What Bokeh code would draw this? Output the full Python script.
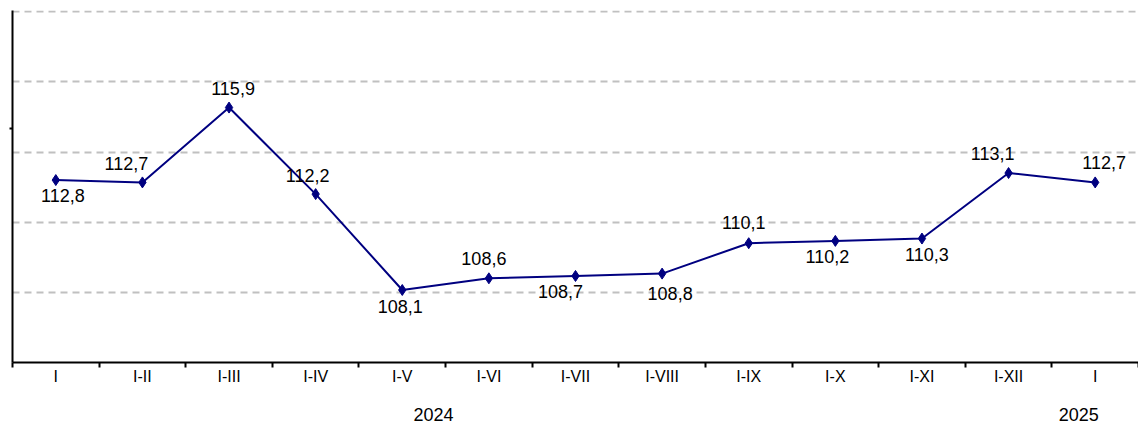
from bokeh.plotting import figure
from bokeh.models import FixedTicker, ColumnDataSource, LinearAxis, Range1d
from bokeh.core.properties import value
from bokeh.embed import file_html
from bokeh.resources import INLINE

# ---- data ----
periods = ["I", "I-II", "I-III", "I-IV", "I-V", "I-VI", "I-VII", "I-VIII",
           "I-IX", "I-X", "I-XI", "I-XII", "I"]
values = [112.8, 112.7, 115.9, 112.2, 108.1, 108.6, 108.7, 108.8,
          110.1, 110.2, 110.3, 113.1, 112.7]
years = ["2024", "2025"]

# ---- layout / style (label placement, screen px) ----
label_dx = [7, -16, 4, -8, -2, -5, -15, 8, -5, -8, 5, -16, 9]
label_dy = [15, -19, -19, -19, 17, -20, 16, 20, -21, 16, 16, -20, -20]
year_x = [4.86, 12.31]

FONT = "Liberation Sans"
NAVY = "#000080"

n = len(periods)
xs = [i + 0.5 for i in range(n)]
labels = [f"{v:.1f}".replace(".", ",") for v in values]

src = ColumnDataSource(dict(x=xs, y=values, lab=labels, dx=label_dx, dy=label_dy))

p = figure(width=1138, height=426, output_backend="svg", toolbar_location=None,
           x_range=Range1d(0, n), y_range=Range1d(105, 120.05),
           min_border_left=12, min_border_right=0, min_border_top=10,
           min_border_bottom=64, outline_line_color=None)
p.xaxis.visible = False
p.yaxis.visible = False
p.xgrid.visible = False

# grid
p.ygrid.ticker = FixedTicker(ticks=[108, 111, 114, 117, 120])
p.ygrid.grid_line_color = "#c0c0c0"
p.ygrid.grid_line_width = 2
p.ygrid.grid_line_dash = "7 5"

# left axis (no labels)
ya = LinearAxis(ticker=FixedTicker(ticks=[115]), axis_line_width=2,
                axis_line_color="black", major_tick_in=0, major_tick_out=3,
                major_tick_line_width=2, minor_tick_out=0, minor_tick_in=0,
                major_label_overrides={115: ""}, major_label_standoff=0)
p.add_layout(ya, "left")

# bottom axis with period labels
xa = LinearAxis(ticker=FixedTicker(ticks=xs, minor_ticks=list(range(0, n + 1))),
                axis_line_width=2, axis_line_color="black",
                major_tick_in=0, major_tick_out=0,
                minor_tick_in=0, minor_tick_out=5, minor_tick_line_width=2,
                minor_tick_line_color="black",
                major_label_overrides={x: s for x, s in zip(xs, periods)},
                major_label_text_font=FONT, major_label_text_font_size="16px",
                major_label_text_color="black", major_label_standoff=0)
p.add_layout(xa, "below")

# year axis
ya2 = LinearAxis(ticker=FixedTicker(ticks=year_x),
                 axis_line_color=None, major_tick_line_color=None,
                 minor_tick_line_color=None,
                 major_label_overrides={x: s for x, s in zip(year_x, years)},
                 major_label_text_font=FONT, major_label_text_font_size="18px",
                 major_label_text_color="black", major_label_standoff=14)
p.add_layout(ya2, "below")

# line + markers
p.line("x", "y", source=src, line_color=NAVY, line_width=2)
p.scatter("x", "y", source=src, marker="diamond", size=11, fill_color=NAVY,
          line_color=NAVY)

# data labels
p.text("x", "y", text="lab", source=src, x_offset="dx", y_offset="dy",
       text_align="center", text_baseline="middle", text_font=value(FONT),
       text_font_size="18px", text_color="black")

open("out.html", "w").write(file_html(p, INLINE))
